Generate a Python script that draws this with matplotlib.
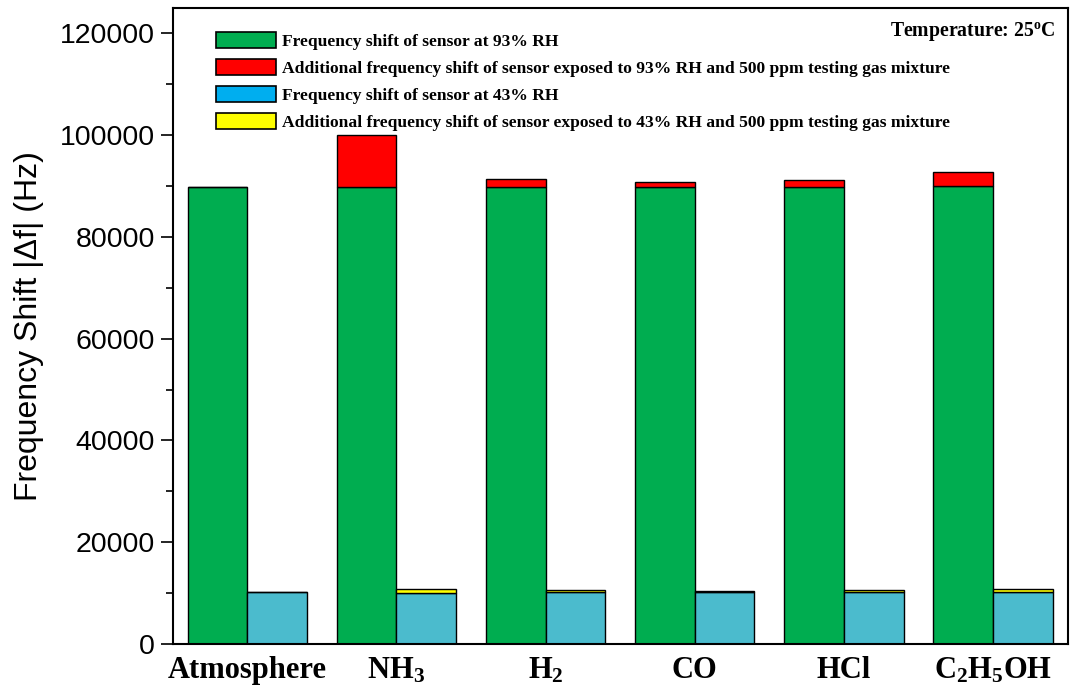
import matplotlib
matplotlib.use("Agg")
import matplotlib.pyplot as plt
from matplotlib.patches import Patch
import numpy as np

# data
gases = ["Atmosphere", r"NH$_\mathbf{3}$", r"H$_\mathbf{2}$", "CO", "HCl", r"C$_\mathbf{2}$H$_\mathbf{5}$OH"]
rh93 = [89800, 89800, 89800, 89800, 89800, 90000]
rh93_add = [0, 10300, 1600, 1000, 1500, 2800]
rh43 = [10200, 10100, 10200, 10300, 10300, 10200]
rh43_add = [0, 800, 500, 200, 300, 600]

labels = ["Frequency shift of sensor at 93% RH",
          "Additional frequency shift of sensor exposed to 93% RH and 500 ppm testing gas mixture",
          "Frequency shift of sensor at 43% RH",
          "Additional frequency shift of sensor exposed to 43% RH and 500 ppm testing gas mixture"]

c_green = "#00ad50"
c_red = "#ff0000"
c_cyan = "#4bbbcd"
c_blue = "#00aeef"
c_yellow = "#ffff00"

plt.rcParams["mathtext.fontset"] = "custom"
plt.rcParams["mathtext.rm"] = "Liberation Serif:bold"
plt.rcParams["mathtext.bf"] = "Liberation Serif:bold"
plt.rcParams["mathtext.it"] = "Liberation Serif:bold"

fig = plt.figure(figsize=(10.73, 6.95), dpi=100)
ax = fig.add_axes([0.161, 0.0734, 0.834, 0.915])

x = np.arange(len(gases))
w = 0.4
ax.bar(x - w/2, rh93, w, color=c_green, edgecolor="black", linewidth=1)
ax.bar(x - w/2, rh93_add, w, bottom=rh93, color=c_red, edgecolor="black", linewidth=1)
ax.bar(x + w/2, rh43, w, color=c_cyan, edgecolor="black", linewidth=1)
ax.bar(x + w/2, rh43_add, w, bottom=rh43, color=c_yellow, edgecolor="black", linewidth=1)

ax.set_xlim(-0.5, 5.5)
ax.set_ylim(0, 125000)
ax.set_yticks(np.arange(0, 120001, 20000))
ax.set_yticks(np.arange(10000, 120000, 20000), minor=True)
ax.tick_params(axis="y", which="major", direction="out", length=9, width=1.2, labelsize=20.5, pad=4)
ax.tick_params(axis="y", which="minor", direction="out", length=5, width=1.2)
for lab in ax.get_yticklabels():
    lab.set_fontfamily("Liberation Sans")

ax.set_xticks(x)
ax.set_xticklabels(gases, fontfamily="Liberation Serif", fontweight="bold", fontsize=22)
ax.tick_params(axis="x", length=0, pad=9)

for s in ax.spines.values():
    s.set_linewidth(1.5)

ax.set_ylabel("Frequency Shift |\u0394f| (Hz)", fontfamily="Liberation Sans", fontsize=23, labelpad=11)

handles = [Patch(facecolor=c_green, edgecolor="black", linewidth=1.2),
           Patch(facecolor=c_red, edgecolor="black", linewidth=1.2),
           Patch(facecolor=c_blue, edgecolor="black", linewidth=1.2),
           Patch(facecolor=c_yellow, edgecolor="black", linewidth=1.2)]
ax.legend(handles, labels, loc="upper left", bbox_to_anchor=(0.048, 0.962), frameon=False,
          prop={"family": "Liberation Serif", "weight": "bold", "size": 12.6},
          handlelength=3.43, handleheight=1.0, labelspacing=0.52, handletextpad=0.34,
          borderpad=0, borderaxespad=0)

ax.text(0.986, 0.982, r"Temperature: 25$^\mathrm{o}$C", transform=ax.transAxes, ha="right", va="top",
        fontfamily="Liberation Serif", fontweight="bold", fontsize=14.2)

fig.savefig("out.png", dpi=100)
